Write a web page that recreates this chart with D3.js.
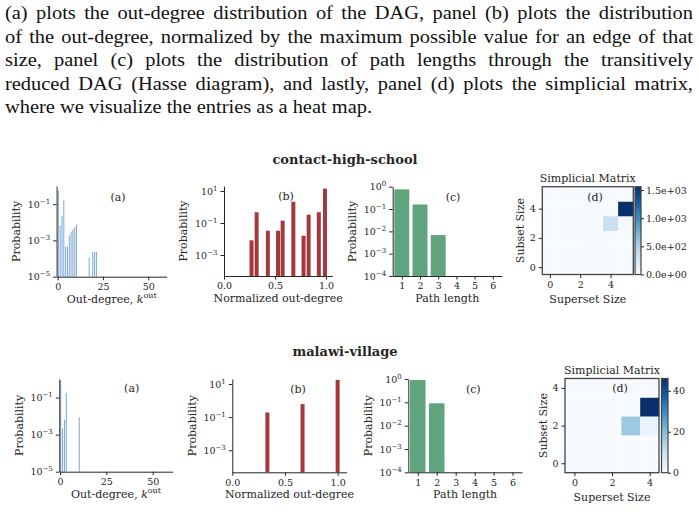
<!DOCTYPE html>
<html>
<head>
<meta charset="utf-8">
<script src="https://cdn.jsdelivr.net/npm/d3@7"></script>
<style>
  body { margin: 0; background: #fff; }
  text { font-family: "DejaVu Serif", serif; fill: #262626; }
  .para { font-family: "Liberation Serif", serif; font-size: 18px; fill: #111; }
</style>
</head>
<body>
<div id="chart"></div>
<script>
//caption text
var para = [
  '(a) plots the out-degree distribution of the DAG, panel (b) plots the distribution',
  'of the out-degree, normalized by the maximum possible value for an edge of that',
  'size, panel (c) plots the distribution of path lengths through the transitively',
  'reduced DAG (Hasse diagram), and lastly, panel (d) plots the simplicial matrix,',
  'where we visualize the entries as a heat map.'
];

//data: contact-high-school
var hsOutK = [0, 1, 2, 3, 4, 5, 6, 7, 8, 9, 10, 17, 19, 20, 21];
var hsOutP = [0.55, 0.0065, 0.023, 0.17, 0.00045, 0.00045, 0.0019, 0.0031, 0.004, 0.0052, 0.0074, 0.00011, 0.00023, 0.00023, 0.00023];
var hsNormX = [0.27, 0.32, 0.43, 0.53, 0.575, 0.68, 0.78, 0.83, 0.93, 0.99];
var hsNormP = [0.0083, 0.47, 0.033, 0.033, 0.14, 2.1, 0.016, 0.33, 0.47, 14];
var hsPathLen = [1, 2, 3];
var hsPathP = [0.76, 0.16, 0.0068];
var hsMatrix = [
  [0, 0, 0, 0, 0, 0],
  [0, 0, 0, 0, 0, 0],
  [0, 0, 0, 20, 0, 0],
  [0, 0, 0, 0, 340, 30],
  [0, 0, 0, 0, 0, 1560],
  [0, 0, 0, 0, 0, 0]
];
var hsCbarTicks = [0, 500, 1000, 1500];

//data: malawi-village
var mvOutK = [0, 1, 2, 3, 10];
var mvOutP = [0.85, 0.0021, 0.0064, 0.18, 0.0087];
var mvNormX = [0.333, 0.667, 1.0];
var mvNormP = [0.19, 0.61, 17.5];
var mvPathLen = [1, 2];
var mvPathP = [0.9, 0.091];
var mvMatrix = [
  [0, 0, 0, 0, 0],
  [0, 0, 0, 0, 0],
  [0, 0, 0, 17, 3],
  [0, 0, 0, 0, 46],
  [0, 0, 0, 0, 0]
];
var mvCbarTicks = [0, 20, 40];

//tick labels
var outTicks = [0, 25, 50];
var outYTicks = [1e-1, 1e-3, 1e-5];
var normTicks = [0, 0.5, 1.0];
var normYTicks = [1e1, 1e-1, 1e-3];
var pathTicks = [1, 2, 3, 4, 5, 6];
var pathYTicks = [1e0, 1e-1, 1e-2, 1e-3, 1e-4];
var matTicks = [0, 2, 4];

//dims
var width = 699;
var height = 512;

var svg = d3.select('#chart')
  .append('svg')
  .attr('width', width)
  .attr('height', height);

//caption: widen glyphs a little (the source font is wider), then justify
var lastLine = svg.append('text').attr('class', 'para').text(para[para.length - 1]);
var stretch = 367 / lastLine.node().getComputedTextLength();
lastLine.remove();

para.forEach(function(line, i) {
  var y = 19 + i * 23.5;
  var words = line.split(' ');
  var nodes = words.map(function(w) {
    return svg.append('text').attr('class', 'para').attr('y', y).text(w);
  });
  var widths = nodes.map(function(n) { return n.node().getComputedTextLength() * stretch; });
  var gap = i < para.length - 1 ? (688 - d3.sum(widths)) / (words.length - 1) : 4.5 * stretch;
  var x = 5;
  nodes.forEach(function(n, j) {
    n.attr('x', x)
      .attr('textLength', widths[j])
      .attr('lengthAdjust', 'spacingAndGlyphs');
    x += widths[j] + gap;
  });
});

function supLabels(g) {
  g.selectAll('.tick text').each(function(d) {
    var e = Math.round(Math.log10(d));
    var t = d3.select(this);
    t.text('10');
    t.append('tspan').attr('dy', -4).attr('font-size', 7)
      .text(e < 0 ? '\u2212' + (-e) : e);
  });
}

function styleAxis(g) {
  g.selectAll('path, line').attr('stroke', '#262626').attr('stroke-width', 1);
  g.selectAll('text').attr('font-size', 9.5).attr('fill', '#262626')
    .style('font-family', '"DejaVu Serif", serif');
}

function labels(box, xl, yl, tag) {
  if (xl) {
    svg.append('text')
      .attr('x', (box.l + box.r) / 2).attr('y', box.b + 26)
      .attr('text-anchor', 'middle').attr('font-size', 11).text(xl);
  }
  svg.append('text')
    .attr('transform', 'translate(' + (box.l - 40.5) + ',' + ((box.t + box.b) / 2) + ') rotate(-90)')
    .attr('text-anchor', 'middle').attr('dy', '0.35em').attr('font-size', 11).text(yl);
  svg.append('text')
    .attr('x', tag[0]).attr('y', tag[1])
    .attr('text-anchor', 'middle').attr('font-size', 11).text(tag[2]);
}

function axes(box, x, y, xt, yt, xfmt) {
  var gx = svg.append('g').attr('transform', 'translate(0,' + box.b + ')')
    .call(d3.axisBottom(x).tickValues(xt).tickSize(3.5).tickSizeOuter(0).tickFormat(xfmt));
  var gy = svg.append('g').attr('transform', 'translate(' + box.l + ',0)')
    .call(d3.axisLeft(y).tickValues(yt).tickSize(3.5).tickSizeOuter(0));
  supLabels(gy);
  styleAxis(gx);
  styleAxis(gy);
}

//panel (a): out-degree histogram
function outPanel(box, ks, ps, tag) {
  var x = d3.scaleLinear().domain(box.xd).range([box.l, box.r]);
  var y = d3.scaleLog().domain([1e-5, 1]).range([box.b, box.t]);
  var bw = x(1) - x(0);
  svg.append('g').selectAll('rect')
    .data(ks.map(function(k, i) { return { k: k, p: ps[i] }; }))
    .enter()
    .append('rect')
    .attr('x', function(d) { return x(d.k) + 0.2; })
    .attr('width', bw * 0.55)
    .attr('y', function(d) { return y(d.p); })
    .attr('height', function(d) { return box.b - y(d.p); })
    .attr('fill', '#7ca6d8');
  axes(box, x, y, outTicks, outYTicks, d3.format('d'));
  var xl = svg.append('text')
    .attr('x', (box.l + box.r) / 2).attr('y', box.b + 26)
    .attr('text-anchor', 'middle').attr('font-size', 11).text('Out-degree, ');
  xl.append('tspan').attr('font-style', 'italic').text('k');
  xl.append('tspan').attr('dy', -5).attr('font-size', 8).text('out');
  labels(box, '', 'Probability', tag);
}

//panel (b): normalized out-degree
function normPanel(box, xs, ps, tag) {
  var x = d3.scaleLinear().domain(box.xd).range([box.l, box.r]);
  var y = d3.scaleLog().domain(box.yd).range([box.b, box.t]);
  svg.append('g').selectAll('rect')
    .data(xs.map(function(v, i) { return { v: v, p: ps[i] }; }))
    .enter()
    .append('rect')
    .attr('x', function(d) { return x(d.v) - 2; })
    .attr('width', 4)
    .attr('y', function(d) { return y(d.p); })
    .attr('height', function(d) { return box.b - y(d.p); })
    .attr('fill', '#a3393d');
  axes(box, x, y, normTicks, normYTicks, d3.format('.1f'));
  labels(box, 'Normalized out-degree', 'Probability', tag);
}

//panel (c): path lengths
function pathPanel(box, ls, ps, tag) {
  var x = d3.scaleLinear().domain([0.5, 6.5]).range([box.l, box.r]);
  var y = d3.scaleLog().domain([1e-4, 1]).range([box.b, box.t]);
  var bw = (x(1) - x(0)) * 0.82;
  svg.append('g').selectAll('rect')
    .data(ls.map(function(l, i) { return { l: l, p: ps[i] }; }))
    .enter()
    .append('rect')
    .attr('x', function(d) { return x(d.l) - bw / 2; })
    .attr('width', bw)
    .attr('y', function(d) { return y(d.p); })
    .attr('height', function(d) { return box.b - y(d.p); })
    .attr('fill', '#5fa47d');
  axes(box, x, y, pathTicks, pathYTicks, d3.format('d'));
  labels(box, 'Path length', 'Probability', tag);
}

//panel (d): simplicial matrix heat map
var gradN = 0;
function matPanel(box, m, cticks, cfmt, tag) {
  var n = m.length;
  var x = d3.scaleLinear().domain([-0.5, n - 0.5]).range([box.l, box.r]);
  var y = d3.scaleLinear().domain([-0.5, n - 0.5]).range([box.b, box.t]);
  var vmax = d3.max(m, function(r) { return d3.max(r); });
  var color = d3.scaleSequential(d3.interpolateBlues).domain([0, vmax]);
  var cells = [];
  m.forEach(function(row, i) {
    row.forEach(function(v, j) { cells.push({ i: i, j: j, v: v }); });
  });
  svg.append('g').selectAll('rect')
    .data(cells)
    .enter()
    .append('rect')
    .attr('x', function(d) { return x(d.j - 0.5); })
    .attr('y', function(d) { return y(d.i + 0.5); })
    .attr('width', x(1) - x(0) + 0.3)
    .attr('height', y(0) - y(1) + 0.3)
    .attr('fill', function(d) { return color(d.v); });
  svg.append('rect')
    .attr('x', box.l).attr('y', box.t)
    .attr('width', box.r - box.l).attr('height', box.b - box.t)
    .attr('fill', 'none').attr('stroke', '#444').attr('stroke-width', 1.3);

  var gx = svg.append('g').attr('transform', 'translate(0,' + box.b + ')')
    .call(d3.axisBottom(x).tickValues(matTicks).tickSize(3.5).tickFormat(d3.format('d')));
  var gy = svg.append('g').attr('transform', 'translate(' + box.l + ',0)')
    .call(d3.axisLeft(y).tickValues(matTicks).tickSize(3.5).tickFormat(d3.format('d')));
  gx.select('.domain').remove();
  gy.select('.domain').remove();
  styleAxis(gx);
  styleAxis(gy);

  //colorbar
  var id = 'grad' + (gradN++);
  var grad = svg.append('defs').append('linearGradient')
    .attr('id', id).attr('x1', 0).attr('y1', 1).attr('x2', 0).attr('y2', 0);
  d3.range(0, 1.001, 0.1).forEach(function(t) {
    grad.append('stop').attr('offset', t).attr('stop-color', d3.interpolateBlues(t));
  });
  var cs = d3.scaleLinear().domain([0, vmax]).range([box.b, box.t]);
  svg.append('rect')
    .attr('x', box.c0).attr('y', box.t)
    .attr('width', box.c1 - box.c0).attr('height', box.b - box.t)
    .attr('fill', 'url(#' + id + ')')
    .attr('stroke', '#444').attr('stroke-width', 1.2);
  var gc = svg.append('g').attr('transform', 'translate(' + box.c1 + ',0)')
    .call(d3.axisRight(cs).tickValues(cticks).tickSize(3).tickPadding(2).tickFormat(cfmt));
  gc.select('.domain').remove();
  styleAxis(gc);

  svg.append('text')
    .attr('x', (box.l + box.r) / 2).attr('y', box.t - 4.5)
    .attr('text-anchor', 'middle').attr('font-size', 11).text('Simplicial Matrix');
  svg.append('text')
    .attr('x', (box.l + box.r) / 2).attr('y', box.b + 28.5)
    .attr('text-anchor', 'middle').attr('font-size', 11).text('Superset Size');
  svg.append('text')
    .attr('transform', 'translate(' + (box.l - 22) + ',' + ((box.t + box.b) / 2) + ') rotate(-90)')
    .attr('text-anchor', 'middle').attr('dy', '0.35em').attr('font-size', 11).text('Subset Size');
  svg.append('text')
    .attr('x', tag[0]).attr('y', tag[1])
    .attr('text-anchor', 'middle').attr('font-size', 11).text(tag[2]);
}

function sciFmt(v) {
  return d3.format('.1e')(v).replace(/e([+-])(\d)$/, 'e$10$2');
}

//row titles
svg.append('text').attr('x', 345).attr('y', 164).attr('text-anchor', 'middle')
  .attr('font-size', 13).attr('font-weight', 'bold').attr('fill', '#111').text('contact-high-school');
svg.append('text').attr('x', 345).attr('y', 356).attr('text-anchor', 'middle')
  .attr('font-size', 13).attr('font-weight', 'bold').attr('fill', '#111').text('malawi-village');

//row 1
outPanel({ l: 56.6, r: 166.7, t: 186, b: 276.7, xd: [-0.6, 60.2] }, hsOutK, hsOutP, [118, 201, '(a)']);
normPanel({ l: 224, r: 332.3, t: 186, b: 276, xd: [0, 1.062], yd: [Math.pow(10, -4.31), Math.pow(10, 1.31)] },
  hsNormX, hsNormP, [286, 200, '(b)']);
pathPanel({ l: 392.7, r: 501.9, t: 186.7, b: 276 }, hsPathLen, hsPathP, [453, 201, '(c)']);
matPanel({ l: 542.3, r: 633.3, t: 186.7, b: 274.5, c0: 635, c1: 641 }, hsMatrix, hsCbarTicks, sciFmt, [595, 201, '(d)']);

//row 2
outPanel({ l: 59.3, r: 172.7, t: 379, b: 471.7, xd: [-0.38, 60.8] }, mvOutK, mvOutP, [131.7, 392, '(a)']);
normPanel({ l: 232.3, r: 346.7, t: 379, b: 472.3, xd: [0, 1.086], yd: [Math.pow(10, -4.33), Math.pow(10, 1.3)] },
  mvNormX, mvNormP, [298, 393, '(b)']);
pathPanel({ l: 408.3, r: 522, t: 379, b: 472.3 }, mvPathLen, mvPathP, [473.3, 393, '(c)']);
matPanel({ l: 565, r: 659, t: 378.5, b: 472.7, c0: 661.5, c1: 668 }, mvMatrix, mvCbarTicks, d3.format('d'), [620, 392, '(d)']);
</script>
</body>
</html>
